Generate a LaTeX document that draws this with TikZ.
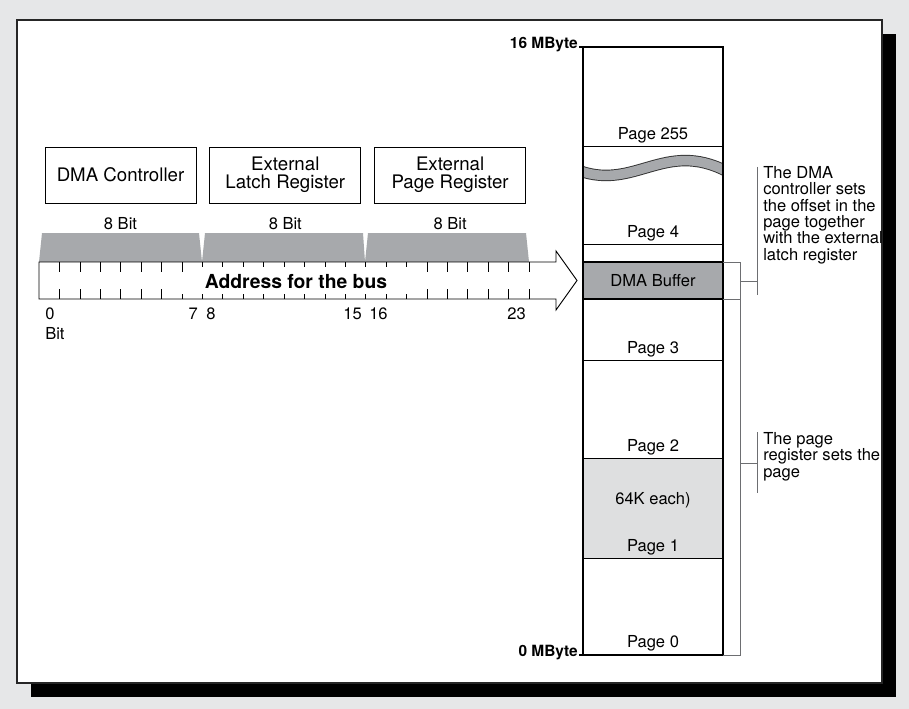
\documentclass[tikz,border=0pt]{standalone}
\usepackage{fontspec}
\setmainfont{TeX Gyre Heros}
\usetikzlibrary{positioning, calc}

\definecolor{paneGray}{HTML}{E6E7E8}
\definecolor{bandGray}{HTML}{A7A9AC}
\definecolor{pageGray}{HTML}{DEDFE0}
\definecolor{braceGray}{HTML}{6D6E71}

\begin{document}
\begin{tikzpicture}[
    x=0.75pt, y=-0.75pt,
    regbox/.style={
        draw, line width=0.6pt,
        minimum width=113.25pt, minimum height=42pt,
        align=center, inner sep=0pt,
        font=\fontsize{14pt}{13.7pt}\selectfont
    },
    smalltext/.style={inner sep=0pt, font=\fontsize{12.4pt}{12.3pt}\selectfont},
    bigbold/.style={inner sep=0pt, font=\fontsize{11.6pt}{12pt}\selectfont\bfseries},
    pagelabel/.style={smalltext, anchor=south},
    pageline/.style={line width=0.6pt},
    bittick/.style={line width=0.5pt},
    brace/.style={draw=braceGray, line width=0.7pt}
]

\useasboundingbox (0,0) rectangle (909,709);

% Frame
\fill[paneGray] (0,0) rectangle (909,709);
\fill[black] (31,34) rectangle (896,697);
\filldraw[fill=white, draw=black!85, line width=1.2pt] (17,20) rectangle (882,683);

% Register boxes
\node[regbox] (dmactl) at (120.5,175) {DMA Controller};
\node[regbox, right=9.75pt of dmactl] (latchreg) {External\\Latch Register};
\node[regbox, right=9.75pt of latchreg] (pagereg) {External\\Page Register};

\node[smalltext, below=10.5pt of dmactl] (bitsA) {8 Bit};
\node[smalltext, below=10.5pt of latchreg] (bitsB) {8 Bit};
\node[smalltext, below=10.5pt of pagereg] (bitsC) {8 Bit};

% Bit groups
\fill[bandGray] (39,262) -- (42,233) -- (199,233) -- (202,262) -- cycle;
\fill[bandGray] (202,262) -- (205,233) -- (363,233) -- (365,262) -- cycle;
\fill[bandGray] (365,262) -- (368,233) -- (526,233) -- (529,262) -- cycle;

% Bus arrow
\coordinate (busTL) at (39,262);
\coordinate (busBL) at (39,299);
\coordinate (busTip) at (577,280.5);
\draw[line width=0.7pt, fill=white]
    (busTL) -- (556,262) -- (556,251) -- (busTip) -- (556,310) -- (556,299) -- (busBL) -- cycle;

\foreach \k in {1,2,3,4,5,6,7,19,20,21,22,23,24}
    \draw[bittick] ({39+20.42*\k},262) -- ++(0,10);
\foreach \k in {8,9,10,11,12,13,14,15,16,17,18}
    \draw[bittick] ({39+20.42*\k},262) -- ++(0,5);
\foreach \k in {1,2,3,4,5,6,19,20,21,22,23,24}
    \draw[bittick] ({39+20.42*\k},299) -- ++(0,-10);
\foreach \k in {7,8,9,10,11,12,13,14,15,16,17,18}
    \draw[bittick] ({39+20.42*\k},299) -- ++(0,-5);

\node[inner sep=0pt, font=\fontsize{14.5pt}{14pt}\selectfont\bfseries] (busname) at (296,282) {Address for the bus};

% Bit numbers
\node[smalltext, anchor=west] (bit0) at (45,314) {0};
\node[smalltext, anchor=west] (bitword) at (45,334) {Bit};
\node[smalltext, anchor=east] (bit7) at (198,314) {7};
\node[smalltext, anchor=west] (bit8) at (206,314) {8};
\node[smalltext, anchor=east] (bit15) at (362,314) {15};
\node[smalltext, anchor=west] (bit16) at (369,314) {16};
\node[smalltext, anchor=east] (bit23) at (526,314) {23};

% Memory column
\fill[bandGray] (583,262) rectangle (723,299);
\fill[pageGray] (583,458) rectangle (723,558);

\begin{scope}
    \clip (583,47) rectangle (723,655);
    \draw[line width=8.6pt, black!80] (580,171) .. controls (635,190) and (665,140) .. (726,171);
    \draw[line width=7.2pt, bandGray] (580,171) .. controls (635,190) and (665,140) .. (726,171);
\end{scope}

\draw[pageline] (583,146) -- (723,146);
\draw[pageline] (583,244) -- (723,244);
\draw[line width=0.9pt] (583,262) -- (723,262);
\draw[line width=0.9pt] (583,299) -- (723,299);
\draw[pageline] (583,360) -- (723,360);
\draw[pageline] (583,458) -- (723,458);
\draw[pageline] (583,558) -- (723,558);
\draw[line width=1.5pt] (583,47) rectangle (723,655);

\node[pagelabel] (page255) at (653,143) {Page 255};
\node[pagelabel] (page4) at (653,241) {Page 4};
\node[smalltext] (dmabuf) at (653,281) {DMA Buffer};
\node[pagelabel] (page3) at (653,357) {Page 3};
\node[pagelabel] (page2) at (653,455) {Page 2};
\node[smalltext] (pagesize) at (653,500) {64K each)};
\node[pagelabel] (page1) at (653,555) {Page 1};
\node[pagelabel] (page0) at (653,651) {Page 0};

\node[bigbold, anchor=east] (topmem) at (578,45) {16 MByte};
\node[bigbold, anchor=east] (botmem) at (578,653) {0 MByte};
\draw[line width=1pt] (topmem.east |- 0,47) ++(1,0) -- (583,47);
\draw[line width=1pt] (botmem.east |- 0,655) ++(1,0) -- (583,655);

% Notes
\node[smalltext, anchor=north west, align=left] (dmanote) at (763,166)
    {The DMA\\controller sets\\the offset in the\\page together\\with the external\\latch register};
\node[smalltext, anchor=north west, align=left] (pagenote) at (763,432)
    {The page\\register sets the\\page};

% Brackets
\draw[brace] (723,262) -- (740,262) -- (740,655) -- (723,655);
\draw[brace] (723,299) -- (740,299);
\draw[brace] (740,281) -- (757,281);
\draw[brace] (757,167) -- (757,295);
\draw[brace] (740,463) -- (757,463);
\draw[brace] (757,432) -- (757,493);

\end{tikzpicture}
\end{document}
